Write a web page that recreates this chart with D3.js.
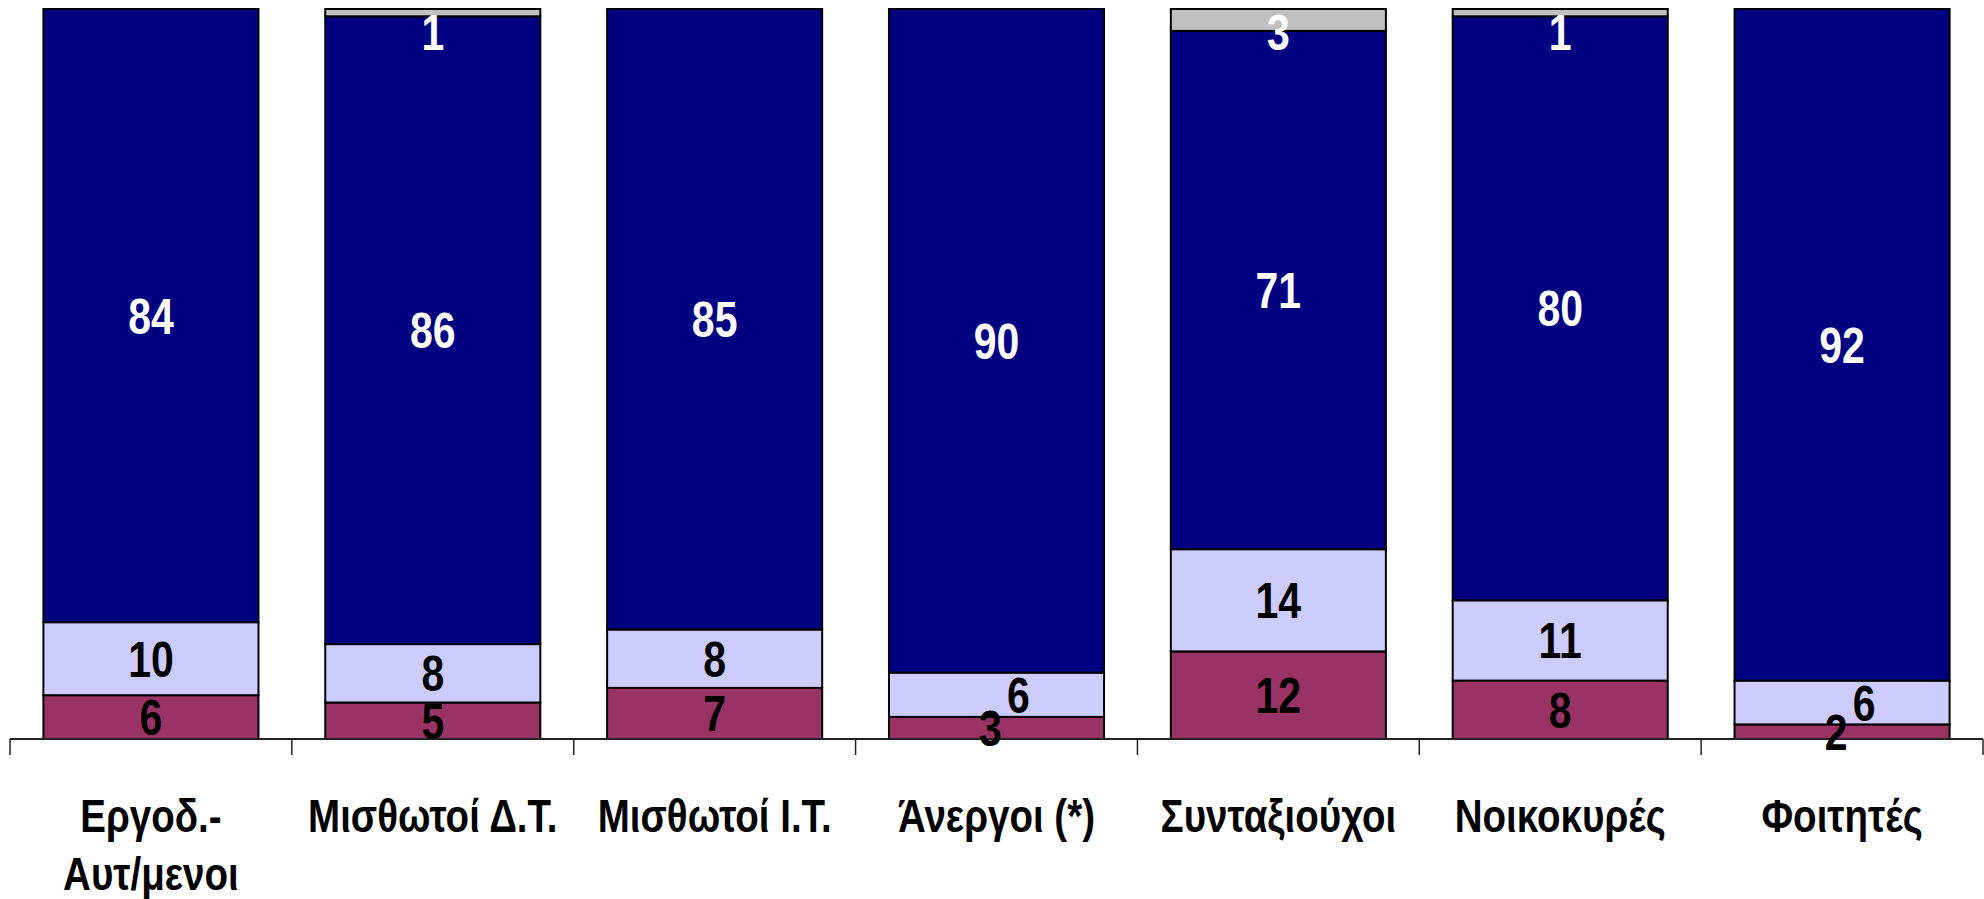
<!DOCTYPE html>
<html>
<head>
<meta charset="utf-8">
<script src="https://d3js.org/d3.v7.min.js"></script>
<style>
	html, body { margin: 0; padding: 0; background: #fff; }
	svg { display: block; }
</style>
</head>
<body>
<svg id="chartSvg"></svg>
<script>
'use strict';

// κατηγορίες (άξονας x)
var categories = ['Εργοδ.-\nΑυτ/μενοι', 'Μισθωτοί Δ.Τ.', 'Μισθωτοί Ι.Τ.', 'Άνεργοι (*)', 'Συνταξιούχοι', 'Νοικοκυρές', 'Φοιτητές']

// σειρές, από κάτω προς τα πάνω
var seriesRed = [6, 5, 7, 3, 12, 8, 2]
var seriesLight = [10, 8, 8, 6, 14, 11, 6]
var seriesNavy = [84, 86, 85, 90, 71, 80, 92]
var seriesGray = [0, 1, 0, 0, 3, 1, 0]

var seriesKeys = ['red', 'light', 'navy', 'gray']
var seriesColors = ['#993366', '#CCCCFF', '#000080', '#C0C0C0']
var labelColors = ['#000', '#000', '#fff', '#fff']

var width = 1984, height = 899
var plotTop = 9, plotBottom = 739, plotLeft = 10, plotRight = 1983

// narrow font check
function hasFont(name) {
	var c = document.createElement('canvas').getContext('2d')
	c.font = 'bold 50px monospace'
	var w0 = c.measureText('Μισθωτοί 0123').width
	c.font = 'bold 50px "' + name + '", monospace'
	return c.measureText('Μισθωτοί 0123').width !== w0
}
var narrow = hasFont('Liberation Sans Narrow')
var fontFamily = narrow ? '"Liberation Sans Narrow", "Arial Narrow", sans-serif' : '"Liberation Sans", Arial, sans-serif'
var sx = narrow ? 1 : 0.82

var rows = categories.map(function(c, i) {
	return { cat: c, red: seriesRed[i], light: seriesLight[i], navy: seriesNavy[i], gray: seriesGray[i] }
})

var stack = d3.stack().keys(seriesKeys).offset(d3.stackOffsetExpand)
var layers = stack(rows)

var x = d3.scaleBand().domain(categories).range([plotLeft, plotRight]).paddingInner(0.237).paddingOuter(0.1185)
var y = d3.scaleLinear().domain([0, 1]).range([plotBottom, plotTop])

var svg = d3.select('#chartSvg').attr('width', width).attr('height', height)

// ράβδοι
var layerG = svg.selectAll('g.layer').data(layers).enter().append('g')
	.attr('class', 'layer')
	.attr('fill', function(d, i) { return seriesColors[i] })

layerG.selectAll('rect').data(function(d) { return d }).enter().append('rect')
	.filter(function(d) { return d[1] - d[0] > 0 })
	.attr('x', function(d) { return x(d.data.cat) })
	.attr('y', function(d) { return y(d[1]) })
	.attr('width', x.bandwidth())
	.attr('height', function(d) { return y(d[0]) - y(d[1]) })
	.attr('stroke', '#000')
	.attr('stroke-width', 2)

// άξονας x
var axisG = svg.append('g')
axisG.append('line')
	.attr('x1', plotLeft).attr('x2', plotRight)
	.attr('y1', plotBottom).attr('y2', plotBottom)
	.attr('stroke', '#222').attr('stroke-width', 2)

var step = x.step()
var tickXs = d3.range(categories.length + 1).map(function(i) { return x(categories[0]) - x.paddingOuter() * step + i * step })
axisG.selectAll('line.tick').data(tickXs).enter().append('line')
	.attr('class', 'tick')
	.attr('x1', function(d) { return d }).attr('x2', function(d) { return d })
	.attr('y1', plotBottom).attr('y2', plotBottom + 16)
	.attr('stroke', '#222').attr('stroke-width', 1.5)

function addText(parent, tx, ty, str, size, color) {
	var g = parent.append('g').attr('transform', 'translate(' + tx + ',' + ty + ') scale(' + sx + ',1)')
	return g.append('text')
		.attr('text-anchor', 'middle')
		.attr('font-family', fontFamily)
		.attr('font-weight', 'bold')
		.attr('font-size', size)
		.attr('fill', color)
		.text(str)
}

// ετικέτες κατηγοριών
var catG = svg.append('g')
categories.forEach(function(c) {
	var cx = x(c) + x.bandwidth() / 2
	c.split('\n').forEach(function(line, k) {
		addText(catG, cx, 832 + k * 58, line, 47, '#000')
	})
})

// ετικέτες τιμών
var labelG = svg.append('g')
var raw = [seriesRed, seriesLight, seriesNavy, seriesGray]
categories.forEach(function(c, ci) {
	var cx = x(c) + x.bandwidth() / 2
	var labs = []
	layers.forEach(function(layer, li) {
		var v = raw[li][ci]
		if (!v) return
		var d = layer[ci]
		var cy = (y(d[0]) + y(d[1])) / 2
		cy = Math.max(cy, plotTop + 23)
		labs.push({ v: v, cy: cy, dx: 0, color: labelColors[li] })
	})
	// μετατόπιση όταν οι ετικέτες επικαλύπτονται
	for (var k = 1; k < labs.length; k++) {
		if (labs[k - 1].cy - labs[k].cy < 40) {
			labs[k].dx = 22
			labs[k - 1].dx = -6
		}
	}
	labs.forEach(function(l) {
		addText(labelG, cx + l.dx, l.cy + 18, l.v, 50, l.color)
	})
})
</script>
</body>
</html>
